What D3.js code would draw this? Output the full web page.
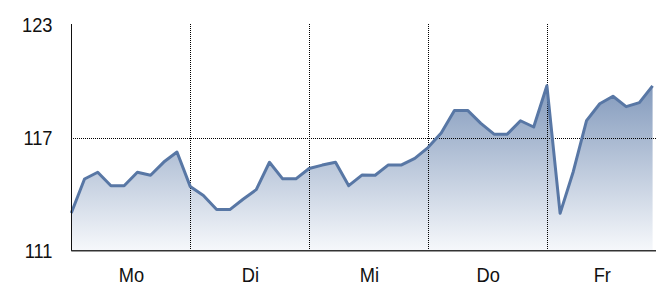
<!DOCTYPE html>
<html><head><meta charset="utf-8">
<script src="https://cdn.jsdelivr.net/npm/d3@7"></script>
<style>html,body{margin:0;padding:0;background:#fff;overflow:hidden}</style>
</head><body>
<svg id="c" width="656" height="300"></svg>
<script>
const days = ["Mo","Di","Mi","Do","Fr"];
const pointsPerDay = 9;
const values = [
  113.0,114.80,115.16,114.44,114.44,115.16,115.0,115.70,116.23,
  114.41,113.93,113.18,113.18,113.73,114.24,115.69,114.81,114.81,
  115.36,115.54,115.69,114.45,115.01,115.0,115.55,115.55,115.9,
  116.47,117.24,118.44,118.44,117.75,117.18,117.18,117.89,117.56,
  119.75,112.98,115.2,117.9,118.79,119.19,118.64,118.85,119.74
];
const yTicks = [111,117,123];
const yGrid = [117];

const W = 656, H = 300;
const svg = d3.select("#c");
const x = d3.scaleLinear().domain([0, days.length*pointsPerDay]).range([71.3, 665.8]);
const y = d3.scaleLinear().domain([111,123]).range([250.7, 24.4]);
const xEnd = W;
const domEnd = x.invert(xEnd);
const px = v => Math.round(v) + 0.5;

const defs = svg.append("defs");
const g = defs.append("linearGradient").attr("id","fillg")
  .attr("gradientUnits","userSpaceOnUse").attr("x1",0).attr("x2",0)
  .attr("y1",y(123)).attr("y2",y(111));
g.append("stop").attr("offset","0%").attr("stop-color","#5877a5");
g.append("stop").attr("offset","100%").attr("stop-color","#f6f8fb");

const data = values.map((v,i)=>({i,v}));
const area = d3.area().x(d=>x(d.i)).y0(y(111)).y1(d=>y(d.v));
const line = d3.line().x(d=>x(d.i)).y(d=>y(d.v));

svg.append("path").datum(data).attr("d",area).attr("fill","url(#fillg)");

// grid
yGrid.forEach(t=>{
  svg.append("line").attr("x1",x(0)).attr("x2",xEnd).attr("y1",px(y(t))).attr("y2",px(y(t)))
    .attr("stroke","#000").attr("stroke-width",1).attr("stroke-dasharray","1,1")
    .attr("shape-rendering","crispEdges");
});
days.forEach((d,k)=>{
  if(k===0) return;
  const xv = px(x(k*pointsPerDay));
  svg.append("line").attr("x1",xv).attr("x2",xv).attr("y1",y(123)).attr("y2",y(111))
    .attr("stroke","#000").attr("stroke-width",1).attr("stroke-dasharray","1,1")
    .attr("shape-rendering","crispEdges");
});

svg.append("path").datum(data).attr("d",line).attr("fill","none")
  .attr("stroke","#5877a5").attr("stroke-width",3).attr("stroke-linejoin","round");

// axes lines
svg.append("line").attr("x1",px(x(0))).attr("x2",px(x(0))).attr("y1",y(123)).attr("y2",y(111))
  .attr("stroke","#111").attr("stroke-width",1).attr("shape-rendering","crispEdges");
svg.append("line").attr("x1",x(0)).attr("x2",xEnd).attr("y1",y(111)).attr("y2",y(111))
  .attr("stroke","#333").attr("stroke-width",1.6);

const font = "'Liberation Sans',Arial,sans-serif";
const sx = 0.87;
yTicks.forEach(t=>{
  svg.append("text").attr("transform",`translate(52.5,${y(t)+7.6}) scale(${sx},1)`)
    .attr("text-anchor","end")
    .attr("font-family",font).attr("font-size",21).attr("fill","#111").text(t);
});
days.forEach((d,k)=>{
  const a = k*pointsPerDay, b = Math.min((k+1)*pointsPerDay, domEnd);
  const cx = (x(a)+x(b))/2 + 0.8;
  svg.append("text").attr("transform",`translate(${cx},282.3) scale(${sx},1)`)
    .attr("text-anchor","middle")
    .attr("font-family",font).attr("font-size",21).attr("fill","#111").text(d);
});
</script>
</body></html>
